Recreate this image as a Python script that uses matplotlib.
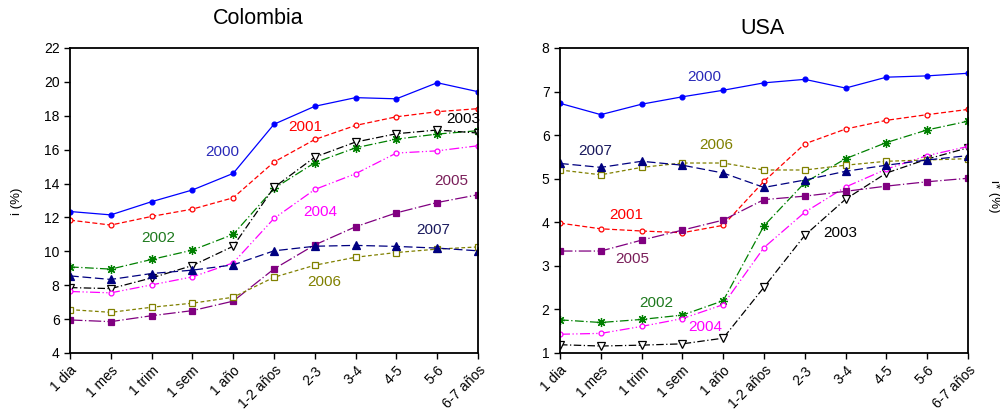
import numpy as np
import matplotlib
matplotlib.use("Agg")
from matplotlib import pyplot as plt

plt.rcParams['font.family'] = ['Liberation Sans', 'DejaVu Sans']

plazos = ['1 dia', '1 mes', '1 trim', '1 sem', '1 año', '1-2 años',
          '2-3', '3-4', '4-5', '5-6', '6-7 años']
years = ['2000', '2001', '2002', '2003', '2004', '2005', '2006', '2007']

# Colombia, i (%)
col_2000 = [12.35, 12.15, 12.93, 13.62, 14.6, 17.5, 18.56, 19.07, 19.0, 19.95, 19.42]
col_2001 = [11.84, 11.55, 12.06, 12.49, 13.16, 15.27, 16.6, 17.43, 17.94, 18.24, 18.42]
col_2002 = [9.08, 8.95, 9.52, 10.07, 11.0, 13.71, 15.23, 16.11, 16.62, 16.92, 17.12]
col_2003 = [7.86, 7.8, 8.43, 9.16, 10.3, 13.77, 15.56, 16.45, 16.94, 17.16, 16.98]
col_2004 = [7.63, 7.55, 8.02, 8.49, 9.32, 11.94, 13.65, 14.58, 15.8, 15.93, 16.23]
col_2005 = [5.95, 5.85, 6.2, 6.5, 7.06, 8.96, 10.38, 11.45, 12.27, 12.88, 13.34]
col_2006 = [6.56, 6.4, 6.7, 6.94, 7.29, 8.47, 9.18, 9.65, 9.93, 10.13, 10.26]
col_2007 = [8.55, 8.34, 8.69, 8.89, 9.2, 10.03, 10.3, 10.35, 10.29, 10.19, 10.03]

# USA, i* (%)
usa_2000 = [6.73, 6.47, 6.71, 6.88, 7.03, 7.2, 7.28, 7.08, 7.33, 7.36, 7.42]
usa_2001 = [3.98, 3.85, 3.8, 3.76, 3.93, 4.94, 5.8, 6.14, 6.34, 6.47, 6.59]
usa_2002 = [1.76, 1.7, 1.77, 1.87, 2.2, 3.92, 4.91, 5.46, 5.83, 6.12, 6.32]
usa_2003 = [1.19, 1.16, 1.18, 1.21, 1.34, 2.51, 3.7, 4.53, 5.13, 5.45, 5.71]
usa_2004 = [1.43, 1.45, 1.61, 1.79, 2.11, 3.42, 4.23, 4.81, 5.22, 5.53, 5.74]
usa_2005 = [3.34, 3.34, 3.59, 3.82, 4.05, 4.52, 4.6, 4.71, 4.83, 4.93, 5.01]
usa_2006 = [5.2, 5.09, 5.26, 5.36, 5.36, 5.2, 5.2, 5.31, 5.4, 5.43, 5.46]
usa_2007 = [5.35, 5.26, 5.4, 5.31, 5.13, 4.8, 4.97, 5.17, 5.31, 5.43, 5.53]

colombia = [col_2000, col_2001, col_2002, col_2003, col_2004, col_2005, col_2006, col_2007]
usa = [usa_2000, usa_2001, usa_2002, usa_2003, usa_2004, usa_2005, usa_2006, usa_2007]

# year label positions (category index, value)
col_labels = [(3.74, 15.84), (5.76, 17.32), (2.16, 10.76), (9.64, 17.8),
              (6.13, 12.35), (9.35, 14.13), (6.23, 8.2), (8.89, 11.25)]
usa_labels = [(3.53, 7.33), (1.63, 4.16), (2.37, 2.15), (6.88, 3.76),
              (3.55, 1.6), (1.76, 3.15), (3.82, 5.77), (0.86, 5.64)]

colors = ['#0000ff', '#ff0000', '#008000', '#000000',
          '#ff00ff', '#800080', '#808000', '#000080']
text_colors = ['#2a2ab8', '#ff0000', '#1f7a1f', '#000000',
               '#ff00ff', '#7a1f5a', '#808000', '#1a1a5e']
styles = [
    dict(ls='-', marker='o', mfc=None, ms=3.5, mew=0.9),
    dict(ls=(0, (4, 2)), marker='o', mfc='white', ms=3.5, mew=0.9),
    dict(ls=(0, (7, 2, 1, 2)), marker=(8, 2, 0), mfc=None, ms=6.5, mew=0.9),
    dict(ls=(0, (6, 2, 1, 2)), marker='v', mfc='white', ms=6, mew=0.9),
    dict(ls=(0, (8, 2, 1, 2, 1, 2)), marker='o', mfc='white', ms=3.5, mew=0.9),
    dict(ls=(0, (10, 2, 1, 2)), marker='s', mfc=None, ms=5, mew=0.9),
    dict(ls=(0, (3, 2)), marker='s', mfc='white', ms=5, mew=0.9),
    dict(ls=(0, (7, 3)), marker='^', mfc=None, ms=6, mew=0.9),
]


def draw(ax, series, labels, ylim, yticks):
    x = np.arange(len(plazos))
    for vals, c, st, tc, yr, pos in zip(series, colors, styles, text_colors, years, labels):
        mfc = st['mfc'] if st['mfc'] else c
        ax.plot(x, vals, color=c, lw=0.9, ls=st['ls'], marker=st['marker'],
                ms=st['ms'], mfc=mfc, mec=c, mew=st['mew'])
        ax.text(pos[0], pos[1], yr, color=tc, fontsize=11, ha='center', va='center')
    ax.set_xlim(0, len(plazos) - 1)
    ax.set_ylim(*ylim)
    ax.set_yticks(yticks)
    ax.set_xticks(x)
    ax.set_xticklabels(plazos, rotation=45, ha='right', rotation_mode='anchor')
    ax.tick_params(direction='out', length=4, width=1, labelsize=10)
    for s in ax.spines.values():
        s.set_linewidth(1.3)


fig = plt.figure(figsize=(10, 4.13), dpi=100)
ax1 = fig.add_axes([0.07, 0.1453, 0.408, 0.7385])
ax2 = fig.add_axes([0.56, 0.1453, 0.408, 0.7385])

draw(ax1, colombia, col_labels, (4, 22), np.arange(4, 23, 2))
draw(ax2, usa, usa_labels, (1, 8), np.arange(1, 9, 1))

fig.text(0.258, 1 - 18 / 413, 'Colombia', fontsize=15.5, ha='center', va='center')
fig.text(0.763, 1 - 28 / 413, 'USA', fontsize=15.5, ha='center', va='center')
fig.text(0.017, 1 - 201 / 413, 'i (%)', fontsize=9.5, rotation=90, ha='center', va='center')
fig.text(0.994, 1 - 196 / 413, 'i* (%)', fontsize=9.5, rotation=270, ha='center', va='center')

fig.savefig('out.png', dpi=100)
